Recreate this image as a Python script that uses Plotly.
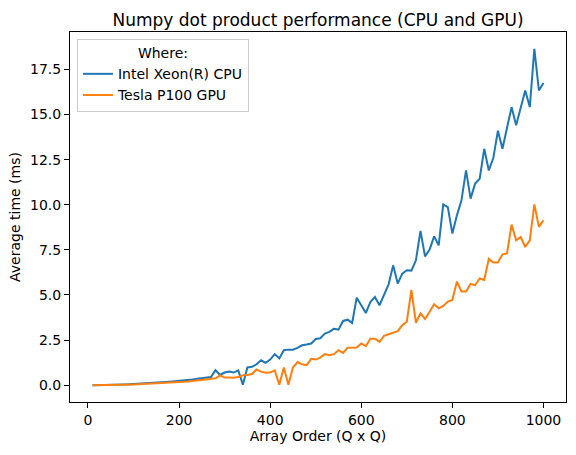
import plotly.graph_objects as go

# array order Q (matrix is Q x Q)
order = list(range(10, 1001, 10))

# average time in ms
cpu_ms = [0.00, 0.00, 0.01, 0.01, 0.02, 0.03, 0.04, 0.04, 0.05, 0.06,
          0.07, 0.08, 0.09, 0.11, 0.12, 0.14, 0.17, 0.19, 0.21, 0.24,
          0.26, 0.29, 0.31, 0.36, 0.40, 0.43, 0.45, 0.83, 0.57, 0.70,
          0.76, 0.70, 0.82, 0.03, 0.98, 1.02, 1.16, 1.38, 1.24, 1.42,
          1.72, 1.48, 1.94, 1.97, 1.97, 2.07, 2.21, 2.25, 2.31, 2.56,
          2.60, 2.86, 2.95, 3.12, 3.08, 3.56, 3.63, 3.45, 4.85, 4.43,
          4.00, 4.61, 4.89, 4.43, 4.98, 5.59, 6.64, 5.63, 6.18, 6.37,
          6.35, 6.92, 8.55, 7.14, 7.51, 8.25, 7.75, 10.02, 9.87, 8.40,
          9.41, 10.24, 11.90, 10.34, 11.17, 11.44, 13.10, 11.90, 12.60, 14.10,
          13.10, 14.30, 15.41, 14.40, 15.40, 16.33, 15.41, 18.64, 16.33, 16.74]

gpu_ms = [0.00, 0.00, 0.00, 0.01, 0.01, 0.02, 0.02, 0.03, 0.03, 0.04,
          0.05, 0.06, 0.07, 0.08, 0.09, 0.10, 0.12, 0.14, 0.15, 0.17,
          0.19, 0.21, 0.24, 0.26, 0.29, 0.31, 0.34, 0.38, 0.54, 0.42,
          0.42, 0.41, 0.45, 0.55, 0.57, 0.62, 0.87, 0.75, 0.69, 0.70,
          0.82, 0.03, 0.98, 0.02, 0.98, 1.28, 1.16, 1.11, 1.46, 1.42,
          1.53, 1.72, 1.66, 1.72, 1.94, 1.79, 2.07, 2.09, 2.09, 2.31,
          2.16, 2.58, 2.58, 2.40, 2.73, 2.82, 2.90, 2.99, 3.32, 3.52,
          5.28, 3.46, 3.98, 3.67, 4.07, 4.48, 4.26, 4.39, 4.63, 4.72,
          5.74, 5.19, 5.19, 5.61, 5.54, 5.91, 5.83, 7.00, 6.80, 6.80,
          7.25, 7.30, 8.90, 8.03, 8.21, 7.66, 8.03, 10.02, 8.77, 9.14]

x_ticks = [0, 200, 400, 600, 800, 1000]
y_ticks = [0.0, 2.5, 5.0, 7.5, 10.0, 12.5, 15.0, 17.5]

fig = go.Figure()
fig.add_trace(go.Scatter(x=order, y=cpu_ms, mode="lines", name="Intel Xeon(R) CPU",
                         line=dict(color="#1f77b4", width=2)))
fig.add_trace(go.Scatter(x=order, y=gpu_ms, mode="lines", name="Tesla P100 GPU",
                         line=dict(color="#ff7f0e", width=2)))

axis_style = dict(showline=True, linecolor="black", linewidth=1, mirror=True,
                  ticks="outside", ticklen=5, tickcolor="black", showgrid=False,
                  zeroline=False, automargin=False,
                  tickfont=dict(size=14, color="black"))

# matplotlib style 5% margins
pad_x = 0.05 * (max(order) - min(order))
top = max(cpu_ms)
fig.update_xaxes(range=[min(order) - pad_x, max(order) + pad_x],
                 tickvals=x_ticks, ticktext=[str(t) for t in x_ticks],
                 title=dict(text="Array Order (Q x Q)", font=dict(size=14, color="black"), standoff=4),
                 **axis_style)
fig.update_yaxes(range=[-0.05 * top, 1.05 * top],
                 tickvals=y_ticks, ticktext=["%.1f" % t for t in y_ticks],
                 title=dict(text="Average time (ms)", font=dict(size=14, color="black"), standoff=6),
                 **axis_style)

fig.update_layout(
    width=576, height=455,
    margin=dict(l=70, r=10, t=32, b=53),
    plot_bgcolor="white", paper_bgcolor="white",
    font=dict(family="DejaVu Sans", size=14, color="black"),
    title=dict(text="Numpy dot product performance (CPU and GPU)", x=0.5, xref="paper",
               y=1, yref="paper", yanchor="bottom", pad=dict(b=6), automargin=False,
               font=dict(size=17, color="black")),
    legend=dict(x=0.014, y=0.981, xanchor="left", yanchor="top",
                title=dict(text="Where:", side="top center", font=dict(size=14)),
                bgcolor="rgba(255,255,255,0.8)", bordercolor="#cccccc", borderwidth=1,
                itemwidth=30, font=dict(size=14)),
    showlegend=True,
)

# the page body has an 8px default margin, drop it so the figure sits at 0,0
fig.write_html("out.html", config={"displayModeBar": False},
               post_script="document.body.style.margin='0';")
